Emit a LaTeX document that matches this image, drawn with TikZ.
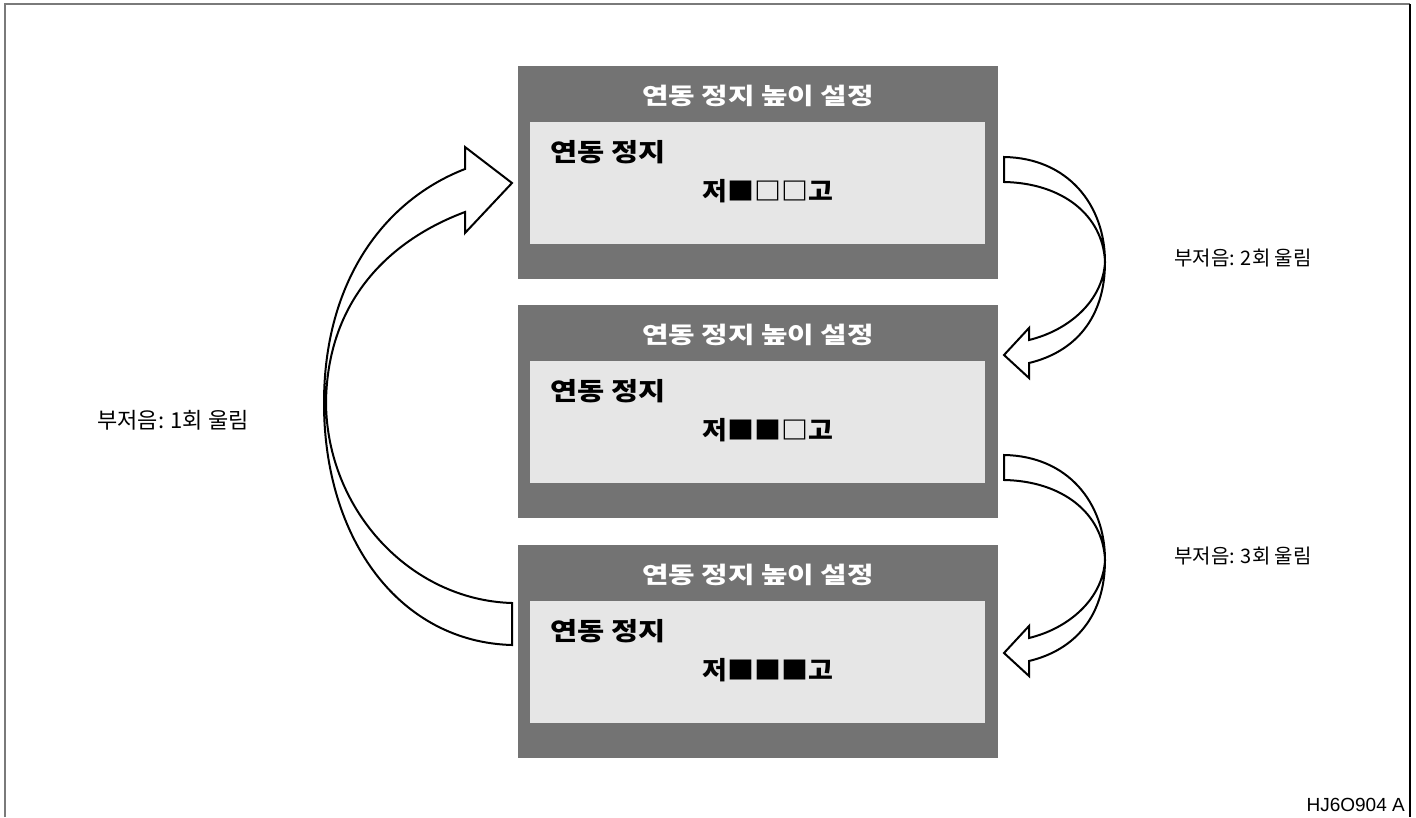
\documentclass[tikz,border=0pt]{standalone}
\usepackage{fontspec}
\newfontfamily\krtitle{Noto Sans CJK KR}[FakeStretch=1.25]
\newfontfamily\krbody{Noto Sans CJK KR}[FakeStretch=1.18]
\newfontfamily\krmarks{Noto Sans CJK KR}[FakeStretch=1.08]
\newfontfamily\krlabel{Noto Sans CJK KR}
\newfontfamily\arialf{Liberation Sans}
\definecolor{panelgray}{HTML}{737373}
\definecolor{screengray}{HTML}{E6E6E6}
\definecolor{framegray}{HTML}{7A7A7A}
\tikzset{
  panel/.style={fill=panelgray, draw=none, minimum width=480pt, minimum height=213pt, inner sep=0pt, anchor=north west},
  screen/.style={fill=screengray, draw=none, minimum width=455pt, minimum height=122pt, inner sep=0pt, anchor=north west},
  titletext/.style={text=white, font=\krtitle\bfseries\fontsize{23}{27}\selectfont, inner sep=0pt},
  bodytext/.style={text=black, font=\krbody\bfseries\fontsize{25}{29}\selectfont, inner sep=0pt},
  markstext/.style={text=black, font=\krmarks\bfseries\fontsize{25}{29}\selectfont, inner sep=0pt},
  labeltext/.style={text=black, inner sep=0pt, font=\krlabel\fontsize{20}{24}\selectfont},
  blockarrow/.style={draw=black, fill=white, line width=2pt, line join=miter}
}
\begin{document}
\begin{tikzpicture}[x=1pt,y=-1pt]
\useasboundingbox (0,0) rectangle (1416,817);
% frame
\draw[framegray, line width=2pt] (5,817) -- (5,4) -- (1410,4);
\draw[black, line width=1.5pt] (1410,4) -- (1410,817);

% panels
\foreach \n/\t/\marks in {1/66/{저■□□고}, 2/305/{저■■□고}, 3/545/{저■■■고}} {
  \node[panel] (p\n) at (518,\t) {};
  \node[screen] (s\n) at (530,\t+56) {};
  \node[titletext] (t\n) at (758,\t+30) {연동 정지 높이 설정};
  \node[bodytext, anchor=west] (h\n) at (550,\t+86) {연동 정지};
  \node[markstext] (m\n) at (768,\t+125) {\marks};
}

% right block arrows
\foreach \dy/\nm in {0/ra1, 298/ra2} {
  \begin{scope}[shift={(0,\dy)}]
  \draw[blockarrow] (1004,157) .. controls (1068,158) and (1105,205) .. (1105,262)
      .. controls (1105,318) and (1075,352) .. (1029,363) -- (1029,378) -- (1004,355)
      -- (1029,328) -- (1029,340) .. controls (1070,330) and (1103,300) .. (1105,262)
      .. controls (1103,215) and (1062,183) .. (1004,182) -- cycle;
  \end{scope}
}

% left block arrow
\draw[blockarrow] (512,645) .. controls (400,642) and (324,540) .. (324,403)
   .. controls (324,280) and (385,200) .. (465,169) -- (465,147) -- (512,183)
   -- (465,233) -- (465,212) .. controls (390,240) and (327,300) .. (326,403)
   .. controls (327,510) and (410,600) .. (512,603) -- cycle;

% labels
\node[labeltext, font=\krlabel\fontsize{22}{26}\selectfont] (l1) at (173,420) {부저음: 1회 울림};
\node[labeltext, anchor=west] (l2) at (1174,258) {부저음: 2회 울림};
\node[labeltext, anchor=west] (l3) at (1174,556) {부저음: 3회 울림};
\node[labeltext, font=\arialf\fontsize{19}{22}\selectfont, anchor=east] (code) at (1405,805) {HJ6O904 A};
\end{tikzpicture}
\end{document}
